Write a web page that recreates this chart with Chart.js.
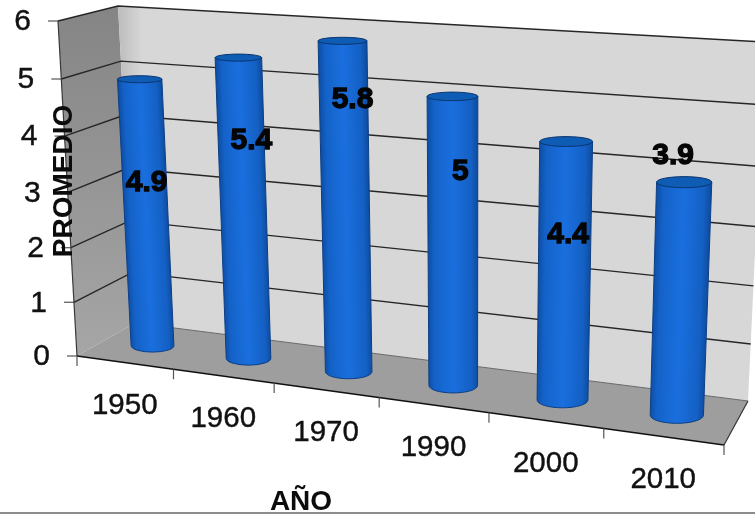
<!DOCTYPE html>
<html>
<head>
<meta charset="utf-8">
<title>Promedio por año</title>
<script src="https://cdn.jsdelivr.net/npm/chart.js@4/dist/chart.umd.min.js"></script>
<style>
  html, body { margin: 0; padding: 0; background: #fff; }
  canvas { display: block; }
</style>
</head>
<body>
<canvas id="promedioChart" width="755" height="518"></canvas>
<script>
const years = ['1950', '1960', '1970', '1990', '2000', '2010'];
const promedio = [4.9, 5.4, 5.8, 5, 4.4, 3.9];
const yMax = 6;

// corners of the 3D box, in the order (0,0) (1,0) (1,1) (0,1)
const frontPlane = [[77, 356], [724, 445], [737, 65], [58, 21]];
const backPlane = [[135, 323], [748, 401], [765, 42], [118, 6]];

// where each value label sits, relative to the top of its cylinder
const labelShift = [[7, 104], [13, 83], [10, 59], [8, 75], [2, 93], [-11, -26]];

const FONT = '"Liberation Sans", Arial, sans-serif';

// unit square -> quad perspective mapping
const makeHomography = (q) => {
  const [[x0, y0], [x1, y1], [x2, y2], [x3, y3]] = q;
  const sx = x0 - x1 + x2 - x3;
  const sy = y0 - y1 + y2 - y3;
  const dx1 = x1 - x2, dx2 = x3 - x2, dy1 = y1 - y2, dy2 = y3 - y2;
  const den = dx1 * dy2 - dx2 * dy1;
  const g = (sx * dy2 - dx2 * sy) / den;
  const h = (dx1 * sy - sx * dy1) / den;
  const a = x1 - x0 + g * x1, b = x3 - x0 + h * x3;
  const d = y1 - y0 + g * y1, e = y3 - y0 + h * y3;
  return (u, v) => {
    const w = g * u + h * v + 1;
    return [(a * u + b * v + x0) / w, (d * u + e * v + y0) / w];
  };
};

const front = makeHomography(frontPlane);
const back = makeHomography(backPlane);

// depth 0 is the front plane, depth 1 the back wall
const project = (u, v, depth) => {
  const f = front(u, v);
  const b = back(u, v);
  return [f[0] + (b[0] - f[0]) * depth, f[1] + (b[1] - f[1]) * depth];
};

const polygon = (ctx, pts) => {
  ctx.beginPath();
  pts.forEach((p, i) => (i ? ctx.lineTo(p[0], p[1]) : ctx.moveTo(p[0], p[1])));
  ctx.closePath();
};

const line = (ctx, pts, color, width) => {
  ctx.beginPath();
  pts.forEach((p, i) => (i ? ctx.lineTo(p[0], p[1]) : ctx.moveTo(p[0], p[1])));
  ctx.strokeStyle = color;
  ctx.lineWidth = width;
  ctx.stroke();
};

const heavyText = (ctx, text, x, y, weight) => {
  ctx.lineWidth = weight;
  ctx.strokeText(text, x, y);
  ctx.fillText(text, x, y);
};

const box3d = {
  id: 'box3d',
  beforeDatasetsDraw(chart) {
    const { ctx, scales: { x: xScale, y: yScale } } = chart;
    const area = chart.chartArea;
    const uOf = (px) => (px - area.left) / area.width;
    const vOf = (py) => (area.bottom - py) / area.height;

    ctx.save();

    // left wall
    const leftGrad = ctx.createLinearGradient(0, 10, 0, 355);
    leftGrad.addColorStop(0, '#858585');
    leftGrad.addColorStop(1, '#a6a6a6');
    polygon(ctx, [frontPlane[0], backPlane[0], backPlane[3], frontPlane[3]]);
    ctx.fillStyle = leftGrad;
    ctx.fill();

    // back wall
    const backGrad = ctx.createLinearGradient(118, 0, 142, 0);
    backGrad.addColorStop(0, '#bcbcbc');
    backGrad.addColorStop(1, '#d7d7d7');
    polygon(ctx, backPlane);
    ctx.fillStyle = backGrad;
    ctx.fill();

    // floor
    polygon(ctx, [frontPlane[0], frontPlane[1], backPlane[1], backPlane[0]]);
    ctx.fillStyle = '#9e9e9e';
    ctx.fill();

    // horizontal grid lines around the walls, plus the value ticks
    yScale.ticks.forEach((tick) => {
      const v = vOf(yScale.getPixelForValue(tick.value));
      const a = project(0, v, 0);
      const b = project(0, v, 1);
      const c = project(1, v, 1);
      if (tick.value > 0) {
        line(ctx, [a, b, c], '#262626', 1.4);
      }
      line(ctx, [[a[0] - 10, a[1]], a], '#555', 1.2);

      ctx.font = `30px ${FONT}`;
      ctx.fillStyle = '#111';
      ctx.strokeStyle = '#111';
      ctx.textAlign = 'right';
      ctx.textBaseline = 'middle';
      heavyText(ctx, String(tick.value), a[0] - 27, a[1] + 1, 0.4);
    });

    // box edges
    line(ctx, [project(0, 0, 1), project(1, 0, 1)], '#6a6a6a', 1);
    line(ctx, [project(1, 0, 0), project(1, 0, 1)], '#333', 1.2);
    line(ctx, [project(0, 0, 0), project(0, 1, 0)], '#3a3a3a', 1.2);
    line(ctx, [project(0, 0, 0), project(1, 0, 0)], '#111', 1.5);

    // category ticks and labels along the front floor edge
    const n = years.length;
    for (let i = 0; i <= n; i++) {
      const u = uOf(xScale.getPixelForValue(i - 0.5));
      const p = project(u, 0, 0);
      line(ctx, [p, [p[0], p[1] + 10]], '#555', 1.2);
    }
    ctx.font = `29.5px ${FONT}`;
    ctx.fillStyle = '#111';
    ctx.strokeStyle = '#111';
    ctx.textAlign = 'center';
    ctx.textBaseline = 'middle';
    xScale.ticks.forEach((tick, i) => {
      const p = project(uOf(xScale.getPixelForTick(i)), 0, 0);
      heavyText(ctx, years[i], p[0], p[1] + 43, 0.4);
    });

    // axis titles
    ctx.font = `bold 28px ${FONT}`;
    ctx.fillStyle = '#0c0c0c';
    ctx.textBaseline = 'alphabetic';
    ctx.fillText('AÑO', 301, 510);
    ctx.save();
    ctx.translate(72, 181);
    ctx.rotate(-Math.PI / 2);
    ctx.fillText('PROMEDIO', 0, 0);
    ctx.restore();

    // rule under the chart
    ctx.fillStyle = '#8c8c8c';
    ctx.fillRect(0, 512, chart.width, 2);

    ctx.restore();
  },
  // the bars are replaced by cylinders built from the same elements
  beforeDatasetDraw(chart, args) {
    const { ctx } = chart;
    const area = chart.chartArea;
    const uOf = (px) => (px - area.left) / area.width;
    const vOf = (py) => (area.bottom - py) / area.height;
    const depth = 0.5;
    const depthRadius = 0.19;

    args.meta.data.forEach((bar) => {
      const u = uOf(bar.x);
      const du = bar.width / 2 / area.width;
      const vTop = vOf(bar.y);
      const vBase = vOf(bar.base);

      const baseL = project(u - du, vBase, depth);
      const baseR = project(u + du, vBase, depth);
      const topL = project(u - du, vTop, depth);
      const topR = project(u + du, vTop, depth);
      const baseC = project(u, vBase, depth);
      const topC = project(u, vTop, depth);

      const ry = (v) => Math.abs(project(u, v, 0)[1] - project(u, v, 1)[1]) * depthRadius;
      const baseRx = (baseR[0] - baseL[0]) / 2;
      const topRx = (topR[0] - topL[0]) / 2;

      const sidePath = () => {
        ctx.beginPath();
        ctx.moveTo(topC[0] - topRx, topC[1]);
        ctx.lineTo(baseC[0] - baseRx, baseC[1]);
        ctx.ellipse(baseC[0], baseC[1], baseRx, ry(vBase), 0, Math.PI, 0, true);
        ctx.lineTo(topC[0] + topRx, topC[1]);
        ctx.closePath();
      };

      // side of the cylinder, shading sheared so it follows the lean
      const shear = (topC[0] - baseC[0]) / (topC[1] - baseC[1]);
      const grad = ctx.createLinearGradient(baseC[0] - baseRx, 0, baseC[0] + baseRx, 0);
      grad.addColorStop(0, '#0e50a8');
      grad.addColorStop(0.12, '#1462c8');
      grad.addColorStop(0.5, '#1a6fde');
      grad.addColorStop(0.88, '#1460c4');
      grad.addColorStop(1, '#0e4ea2');
      ctx.save();
      sidePath();
      ctx.clip();
      ctx.transform(1, 0, shear, 1, -shear * baseC[1], 0);
      ctx.fillStyle = grad;
      ctx.fillRect(0, 0, chart.width, chart.height);
      ctx.restore();

      sidePath();
      ctx.strokeStyle = '#0d3f86';
      ctx.lineWidth = 1;
      ctx.stroke();

      // top cap
      ctx.beginPath();
      ctx.ellipse(topC[0], topC[1], topRx, ry(vTop), 0, 0, Math.PI * 2);
      ctx.fillStyle = '#0f5cb4';
      ctx.fill();
      ctx.strokeStyle = '#0a3570';
      ctx.stroke();
    });

    // value labels go on after all the cylinders
    ctx.save();
    ctx.font = `bold 30px ${FONT}`;
    ctx.textAlign = 'center';
    ctx.textBaseline = 'middle';
    ctx.fillStyle = '#050505';
    ctx.strokeStyle = '#050505';
    args.meta.data.forEach((bar, i) => {
      const top = project(uOf(bar.x), vOf(bar.y), depth);
      heavyText(ctx, String(promedio[i]), top[0] + labelShift[i][0], top[1] + labelShift[i][1], 1.3);
    });
    ctx.restore();

    return false;
  }
};

new Chart(document.getElementById('promedioChart'), {
  type: 'bar',
  data: {
    labels: years,
    datasets: [{
      label: 'PROMEDIO',
      data: promedio,
      backgroundColor: '#1a6fde',
      barPercentage: 0.455,
      categoryPercentage: 1
    }]
  },
  options: {
    responsive: false,
    animation: false,
    layout: { padding: 0 },
    plugins: {
      legend: { display: false },
      tooltip: { enabled: false }
    },
    scales: {
      x: { display: false },
      y: { display: false, min: 0, max: yMax, ticks: { stepSize: 1 } }
    }
  },
  plugins: [box3d]
});
</script>
</body>
</html>
